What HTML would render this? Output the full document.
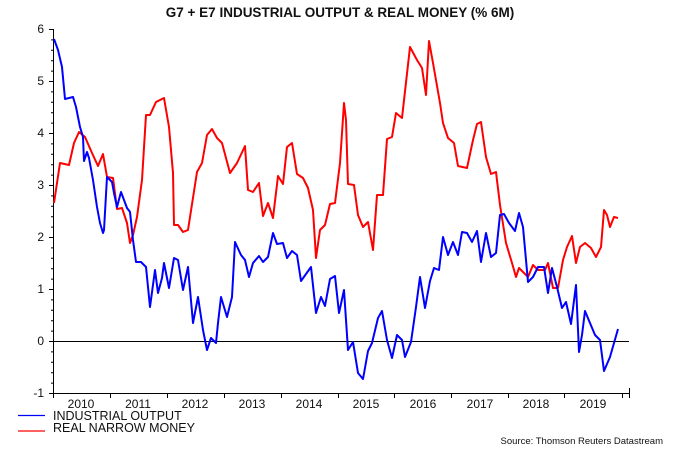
<!DOCTYPE html>
<html><head><meta charset="utf-8"><style>
body{margin:0;background:#fff}
svg{display:block;font-family:"Liberation Sans",Arial,sans-serif}
</style></head><body>
<svg width="675" height="450" viewBox="0 0 675 450">
<text x="340" y="17" text-anchor="middle" font-size="13.5" font-weight="bold" fill="#111">G7 + E7 INDUSTRIAL OUTPUT &amp; REAL MONEY (% 6M)</text>
<g stroke="#000" stroke-width="1" fill="none">
<line x1="53.5" y1="29" x2="53.5" y2="393"/>
<line x1="53" y1="393.5" x2="629" y2="393.5"/>
<line x1="53" y1="341.5" x2="629" y2="341.5"/>
<path d="M49 29.5h4M49 81.5h4M49 133.5h4M49 185.5h4M49 237.5h4M49 289.5h4M49 341.5h4M49 393.5h4
M51 39.9h2M51 50.3h2M51 60.7h2M51 71.1h2M51 91.9h2M51 102.3h2M51 112.7h2M51 123.1h2M51 143.9h2M51 154.3h2M51 164.7h2M51 175.1h2M51 195.9h2M51 206.3h2M51 216.7h2M51 227.1h2M51 247.9h2M51 258.3h2M51 268.7h2M51 279.1h2M51 299.9h2M51 310.3h2M51 320.7h2M51 331.1h2M51 351.9h2M51 362.3h2M51 372.7h2M51 383.1h2"/>
<path d="M53.5 393v5M110.5 393v5M167.5 393v5M224.5 393v5M281.5 393v5M338.5 393v5M394.5 393v5M451.5 393v5M508.5 393v5M564.5 393v5M622.5 393v5M629.5 388v10"/>
</g>
<g font-size="12" fill="#111" text-anchor="end">
<text x="44" y="33">6</text><text x="44" y="85">5</text><text x="44" y="137">4</text><text x="44" y="189">3</text><text x="44" y="241">2</text><text x="44" y="293">1</text><text x="44" y="345">0</text><text x="44" y="397">-1</text>
</g>
<g font-size="12" fill="#111" text-anchor="middle">
<text x="81" y="408">2010</text><text x="138" y="408">2011</text><text x="195" y="408">2012</text><text x="252" y="408">2013</text><text x="309" y="408">2014</text><text x="366" y="408">2015</text><text x="423" y="408">2016</text><text x="480" y="408">2017</text><text x="536" y="408">2018</text><text x="593" y="408">2019</text>
</g>
<polyline fill="none" stroke="#f00" stroke-width="2" stroke-linejoin="round" points="54,203 60,163 69,165 74,143 79,132 85,137 92,153 98,166 103,154 107,177 113,178 117,209 122,208 127,223 130,243 133,235 137,217 142,180 146,115 150,115 156,102 164,98 169,127 173,173 174,225 178,225 183,232 188,230 197,172 202,163 207,135 212,129 217,138 222,143 230,173 237,163 245,146 248,190 253,192 259,183 263,216 268,203 273,218 278,176 283,184 287,147 292,143 297,174 303,178 308,188 313,210 316,258 320,230 325,225 330,204 335,203 340,163 344,103 346,120 348,184 354,185 358,215 363,227 368,222 373,250 377,195 383,195 387,139 392,137 396,113 402,118 410,47 417,60 422,68 426,95 429,41 433,63 440,103 443,123 448,138 454,143 458,166 467,168 473,140 477,124 481,122 486,157 491,174 496,172 500,205 506,243 512,263 516,277 519,268 528,277 533,265 538,270 545,270 548,263 553,288 558,288 563,260 567,247 572,236 576,263 580,247 585,243 591,248 596,257 601,247 604,210 607,215 610,227 614,217 618,218"/>
<polyline fill="none" stroke="#00f" stroke-width="2" stroke-linejoin="round" points="54,39 58,50 62,67 65,99 73,97 76,107 80,127 83,137 84,161 87,152 89,158 93,180 97,207 100,223 103,233 104,230 107,177 112,182 114,193 117,207 121,192 124,200 127,208 130,212 133,240 136,262 141,262 146,267 148,287 150,307 155,270 158,293 162,278 164,263 169,288 174,258 178,260 183,290 188,267 193,323 198,297 203,330 207,350 211,338 216,343 218,323 221,297 227,317 232,297 235,242 241,255 245,260 249,277 253,263 259,256 263,262 268,257 273,233 277,244 283,243 287,258 292,251 297,255 301,281 311,267 316,313 321,297 325,306 330,279 335,276 339,313 344,290 348,350 353,342 358,373 363,379 368,351 372,343 378,318 382,311 387,340 392,358 397,335 402,340 405,357 411,342 416,307 420,277 425,308 430,281 434,268 439,270 443,237 448,255 453,242 458,255 462,232 467,233 472,242 477,231 481,262 486,233 491,257 496,253 500,215 504,214 509,223 515,231 519,213 523,227 528,282 533,277 538,267 544,267 548,293 552,268 557,287 562,308 566,302 571,324 576,285 579,352 582,335 585,311 595,335 600,340 604,371 610,357 618,329"/>
<line x1="18" y1="415.5" x2="45" y2="415.5" stroke="#0000ff" stroke-width="1.3"/>
<line x1="18" y1="431" x2="45" y2="431" stroke="#ff0000" stroke-width="1.3"/>
<text x="53" y="420" font-size="12.5" fill="#111">INDUSTRIAL OUTPUT</text>
<text x="53" y="432" font-size="12.5" fill="#111">REAL NARROW MONEY</text>
<text x="663" y="444" font-size="9.5" fill="#111" text-anchor="end">Source: Thomson Reuters Datastream</text>
</svg>
</body></html>
